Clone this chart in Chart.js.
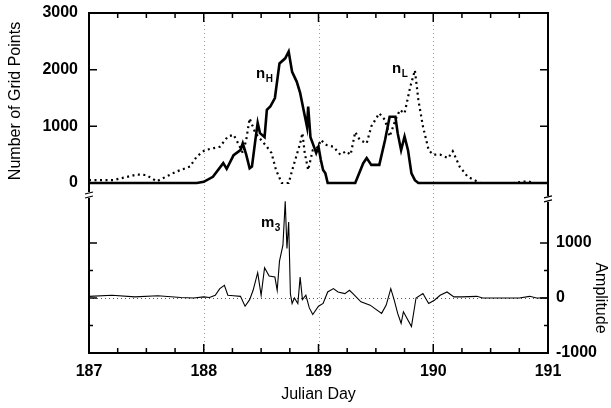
<!DOCTYPE html>
<html>
<head>
<meta charset="utf-8">
<script src="https://cdn.jsdelivr.net/npm/chart.js@4.4.1/dist/chart.umd.min.js"></script>
<style>
  html, body { margin: 0; padding: 0; background: #fff; }
  #wrap { width: 611px; height: 408px; }
</style>
</head>
<body>
<div id="wrap"><canvas id="gridChart"></canvas></div>
<script>
// n_H (thick solid), number of grid points
const hDays = [187, 187.94, 188.0, 188.08, 188.17, 188.2, 188.26, 188.32, 188.34, 188.37, 188.40, 188.42, 188.45, 188.47, 188.49, 188.53, 188.55, 188.58, 188.62, 188.66, 188.71, 188.74, 188.77, 188.81, 188.84, 188.87, 188.90, 188.91, 188.93, 188.95, 188.98, 189.0, 189.02, 189.04, 189.06, 189.08, 189.32, 189.39, 189.42, 189.46, 189.53, 189.58, 189.62, 189.67, 189.69, 189.72, 189.75, 189.78, 189.81, 189.84, 189.87, 191];
const hVals = [0, 0, 20, 110, 350, 250, 490, 580, 700, 500, 260, 290, 760, 1060, 880, 810, 1290, 1350, 1500, 2110, 2200, 2320, 1960, 1790, 1590, 1290, 990, 1350, 810, 700, 530, 640, 410, 230, 170, 0, 0, 350, 440, 320, 320, 760, 1170, 1170, 880, 580, 820, 580, 170, 50, 0, 0];

// n_L (dotted)
const lDays = [187, 187.21, 187.42, 187.50, 187.59, 187.76, 187.88, 187.94, 188.01, 188.14, 188.21, 188.26, 188.30, 188.34, 188.37, 188.40, 188.45, 188.50, 188.55, 188.59, 188.63, 188.68, 188.74, 188.78, 188.84, 188.86, 188.88, 188.91, 188.95, 189.0, 189.02, 189.07, 189.13, 189.19, 189.24, 189.28, 189.32, 189.36, 189.42, 189.46, 189.53, 189.58, 189.62, 189.67, 189.71, 189.75, 189.80, 189.84, 189.87, 189.91, 189.96, 190.0, 190.06, 190.13, 190.17, 190.23, 190.30, 190.41, 190.70, 190.77, 190.83, 190.87, 191];
const lVals = [50, 50, 150, 140, 30, 200, 290, 470, 580, 640, 820, 850, 700, 530, 760, 1140, 880, 760, 640, 530, 230, 0, 0, 290, 700, 880, 530, 230, 580, 640, 760, 670, 640, 500, 560, 500, 900, 760, 700, 1000, 1230, 1110, 820, 1110, 1290, 1230, 1700, 1990, 1470, 1000, 580, 500, 500, 440, 560, 290, 110, 0, 0, 20, 30, 0, 0];

// m_3 amplitude
const mDays = [187, 187.2, 187.4, 187.6, 187.8, 187.91, 188.0, 188.05, 188.10, 188.14, 188.18, 188.21, 188.26, 188.32, 188.36, 188.40, 188.43, 188.47, 188.50, 188.53, 188.57, 188.62, 188.64, 188.66, 188.69, 188.71, 188.725, 188.74, 188.755, 188.77, 188.79, 188.82, 188.84, 188.86, 188.89, 188.92, 188.95, 189.0, 189.04, 189.08, 189.13, 189.17, 189.23, 189.27, 189.30, 189.37, 189.45, 189.55, 189.59, 189.63, 189.66, 189.69, 189.72, 189.74, 189.81, 189.85, 189.91, 189.96, 190.01, 190.06, 190.12, 190.18, 190.25, 190.38, 190.43, 190.75, 190.84, 190.9, 191];
const mVals = [30, 50, 20, 40, 10, 0, 20, 10, 50, 170, 230, 50, 40, 30, -150, -30, 140, 460, 50, 550, 400, 380, 140, 670, 960, 1760, 900, 1380, 80, -100, 0, -100, 380, -30, 50, -180, -300, -150, -100, 110, 170, 110, 80, 140, 80, -70, -130, -280, -130, 170, -40, -280, -460, -250, -520, 0, 80, -100, -40, 50, 110, 20, 20, 30, 0, 0, 30, 0, 0];

const leftTicks = [0, 1000, 2000, 3000];
const rightTicks = [-1000, 0, 1000];
const dayTicks = [187, 188, 189, 190, 191];

const toPoints = (xs, ys) => xs.map((d, i) => ({ x: d, y: ys[i] }));
const plain = v => String(v);

const tickFont = { family: 'Liberation Sans, Arial, sans-serif', size: 16, weight: 'bold' };
const titleFont = '16px "Liberation Sans", Arial, sans-serif';

// frame, inward ticks, dotted grid, break marks, titles, curve labels
const decorations = {
    id: 'decorations',
    beforeDatasetsDraw(chart) {
        const { ctx, chartArea: a, scales } = chart;
        const x = scales.x, yR = scales.y2;
        ctx.save();
        ctx.strokeStyle = '#999';
        ctx.lineWidth = 1;
        ctx.setLineDash([1, 3]);
        [188, 189, 190].forEach(d => {
            const px = Math.round(x.getPixelForValue(d)) + 0.5;
            ctx.beginPath();
            ctx.moveTo(px, a.top);
            ctx.lineTo(px, a.bottom);
            ctx.stroke();
        });
        ctx.strokeStyle = '#555';
        const z = Math.round(yR.getPixelForValue(0)) + 0.5;
        ctx.beginPath();
        ctx.moveTo(a.left, z);
        ctx.lineTo(a.right, z);
        ctx.stroke();
        ctx.restore();
    },
    afterDatasetsDraw(chart) {
        const { ctx, chartArea: a, scales } = chart;
        const x = scales.x, yL = scales.y, yR = scales.y2;
        ctx.save();
        ctx.strokeStyle = '#000';
        ctx.lineWidth = 2;
        ctx.strokeRect(a.left, a.top, a.right - a.left, a.bottom - a.top);
        ctx.lineWidth = 1.5;
        ctx.beginPath();
        for (let d = 187.25; d < 191; d += 0.25) {
            const px = x.getPixelForValue(d);
            const len = Math.abs(d - Math.round(d)) < 0.01 ? 9 : 5;
            ctx.moveTo(px, a.top); ctx.lineTo(px, a.top + len);
            ctx.moveTo(px, a.bottom); ctx.lineTo(px, a.bottom - len);
        }
        leftTicks.slice(1, 3).forEach(v => {
            const py = yL.getPixelForValue(v);
            ctx.moveTo(a.left, py); ctx.lineTo(a.left + 8, py);
            ctx.moveTo(a.right, py); ctx.lineTo(a.right - 8, py);
        });
        [1000, 0].forEach(v => {
            const py = yR.getPixelForValue(v);
            ctx.moveTo(a.left, py); ctx.lineTo(a.left + 8, py);
            ctx.moveTo(a.right, py); ctx.lineTo(a.right - 8, py);
        });
        [500, -500].forEach(v => {
            const py = yR.getPixelForValue(v);
            ctx.moveTo(a.left, py); ctx.lineTo(a.left + 4, py);
            ctx.moveTo(a.right, py); ctx.lineTo(a.right - 4, py);
        });
        ctx.stroke();

        // axis break marks
        const brk = (px, py) => {
            ctx.fillStyle = '#fff';
            ctx.fillRect(px - 4, py - 3, 8, 6);
            ctx.beginPath();
            ctx.moveTo(px - 4, py - 1); ctx.lineTo(px + 4, py - 3);
            ctx.moveTo(px - 4, py + 3); ctx.lineTo(px + 4, py + 1);
            ctx.stroke();
        };
        ctx.lineWidth = 1.2;
        brk(a.left, yL.getPixelForValue(0) + 12);
        brk(a.right, yR.getPixelForValue(1800));

        // axis titles
        ctx.fillStyle = '#000';
        ctx.font = titleFont;
        ctx.textAlign = 'center';
        ctx.textBaseline = 'middle';
        ctx.save();
        ctx.translate(16, (yL.getPixelForValue(0) + yL.getPixelForValue(3000)) / 2 + 3);
        ctx.rotate(-Math.PI / 2);
        ctx.fillText('Number of Grid Points', 0, 0);
        ctx.restore();
        ctx.save();
        ctx.translate(600, yR.getPixelForValue(0));
        ctx.rotate(Math.PI / 2);
        ctx.fillText('Amplitude', 0, 0);
        ctx.restore();

        // curve labels
        const label = (main, sub, px, py) => {
            ctx.textAlign = 'left';
            ctx.textBaseline = 'alphabetic';
            ctx.font = 'bold 15px "Liberation Sans", Arial, sans-serif';
            ctx.fillText(main, px, py);
            const w = ctx.measureText(main).width;
            ctx.font = 'bold 10px "Liberation Sans", Arial, sans-serif';
            ctx.fillText(sub, px + w + 0.5, py + 4);
        };
        label('n', 'H', 256, 78);
        label('n', 'L', 392, 73);
        label('m', '3', 261, 227);
        ctx.restore();
    }
};

const fixSide = w => s => { s.width = w; s.paddingTop = 0; s.paddingBottom = 0; };

new Chart(document.getElementById('gridChart'), {
    type: 'line',
    data: {
        datasets: [{
            label: 'n_H',
            data: toPoints(hDays, hVals),
            yAxisID: 'y',
            borderColor: '#000',
            borderWidth: 2.6,
            pointRadius: 0,
            tension: 0,
        }, {
            label: 'n_L',
            data: toPoints(lDays, lVals),
            yAxisID: 'y',
            borderColor: '#000',
            borderWidth: 2.2,
            borderDash: [2, 3.5],
            pointRadius: 0,
            tension: 0,
        }, {
            label: 'm_3',
            data: toPoints(mDays, mVals),
            yAxisID: 'y2',
            borderColor: '#000',
            borderWidth: 1.1,
            pointRadius: 0,
            tension: 0,
        }]
    },
    options: {
        responsive: true,
        maintainAspectRatio: false,
        animation: false,
        layout: { padding: { top: 13, left: 0, right: 0, bottom: 0 } },
        plugins: { legend: { display: false }, tooltip: { enabled: false } },
        scales: {
            x: {
                type: 'linear',
                min: 187,
                max: 191,
                afterBuildTicks: s => { s.ticks = dayTicks.map(v => ({ value: v })); },
                afterFit: s => { s.height = 55; s.paddingLeft = 0; s.paddingRight = 0; },
                grid: { display: false, drawTicks: false },
                border: { display: false },
                ticks: { color: '#000', font: tickFont, padding: 9, maxRotation: 0, callback: plain },
                title: { display: true, text: 'Julian Day', color: '#000', font: { family: 'Liberation Sans, Arial, sans-serif', size: 16 }, padding: { top: 4 } }
            },
            y: {
                position: 'left',
                min: -3000,
                max: 3000,
                afterBuildTicks: s => { s.ticks = leftTicks.map(v => ({ value: v })); },
                afterFit: fixSide(89),
                grid: { display: false, drawTicks: false },
                border: { display: false },
                ticks: { color: '#000', font: tickFont, padding: 11, callback: plain }
            },
            y2: {
                position: 'right',
                min: -1000,
                max: 5180,
                afterBuildTicks: s => { s.ticks = rightTicks.map(v => ({ value: v })); },
                afterFit: fixSide(63),
                grid: { display: false, drawTicks: false },
                border: { display: false },
                ticks: { color: '#000', font: tickFont, padding: 8, callback: plain }
            }
        }
    },
    plugins: [decorations]
});
</script>
</body>
</html>
